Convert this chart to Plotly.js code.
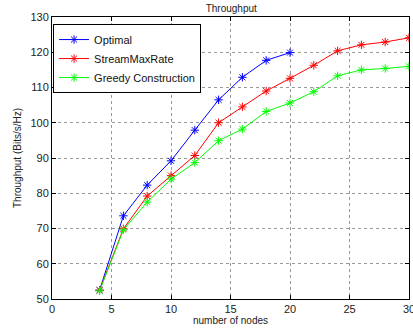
<!DOCTYPE html>
<html><head><meta charset="utf-8">
<script src="https://cdn.plot.ly/plotly-3.0.1.min.js"></script>
<style>html,body{margin:0;padding:0;background:#fff}#c{width:413px;height:335px}</style>
</head><body><div id="c"></div>
<script>
const nodesOpt = [4,6,8,10,12,14,16,18,20];
const optimal = [52.5,73.6,82.3,89.2,97.9,106.5,112.9,117.7,119.9];
const nodesAll = [4,6,8,10,12,14,16,18,20,22,24,26,28,30];
const streamMaxRate = [52.5,69.9,79.2,85.0,90.7,100.0,104.5,109.0,112.6,116.3,120.4,122.1,122.9,124.1];
const greedy = [52.3,69.6,77.5,84.0,88.7,94.9,98.2,103.2,105.6,108.8,113.3,115.0,115.4,116.0];
const xTicks = [0,5,10,15,20,25,30];
const yTicks = [50,60,70,80,90,100,110,120,130];

function tr(x,y,name,color){
  return {x:x,y:y,name:name,type:'scatter',mode:'lines+markers',
    line:{color:color,width:1},
    marker:{symbol:'asterisk-open',size:7,color:color,line:{color:color,width:1}}};
}
const data=[tr(nodesOpt,optimal,'Optimal','#0000ff'),
  tr(nodesAll,streamMaxRate,'StreamMaxRate','#ff0000'),
  tr(nodesAll,greedy,'Greedy Construction','#00ff00')];
const ax={showline:true,linecolor:'#000',linewidth:1,mirror:'ticks',ticks:'inside',ticklen:4,
  tickcolor:'#000',showgrid:true,gridcolor:'#999',griddash:'dot',gridwidth:1,zeroline:false,
  tickfont:{size:11,color:'#222'},ticklabeloverflow:'allow'};
const layout={width:413,height:335,margin:{l:52,r:4,t:17,b:36},
  font:{family:'Liberation Sans, Arial, sans-serif',color:'#222'},
  paper_bgcolor:'#fff',plot_bgcolor:'#fff',
  title:{text:'Throughput',font:{size:10},x:0.56,xanchor:'center',y:0.985,yanchor:'top'},
  xaxis:Object.assign({},ax,{range:[0,30],tickvals:xTicks,
    title:{text:'number of nodes',font:{size:10},standoff:2}}),
  yaxis:Object.assign({},ax,{range:[50,130],tickvals:yTicks,
    title:{text:'Throughput (Bits/s/Hz)',font:{size:10},standoff:6}}),
  legend:{x:0.003,y:0.975,xanchor:'left',yanchor:'top',bgcolor:'#fff',bordercolor:'#000',borderwidth:1,
    font:{size:11,color:'#111'},tracegroupgap:0},
  showlegend:true};
Plotly.newPlot('c',data,layout,{displayModeBar:false,staticPlot:true});
</script></body></html>
